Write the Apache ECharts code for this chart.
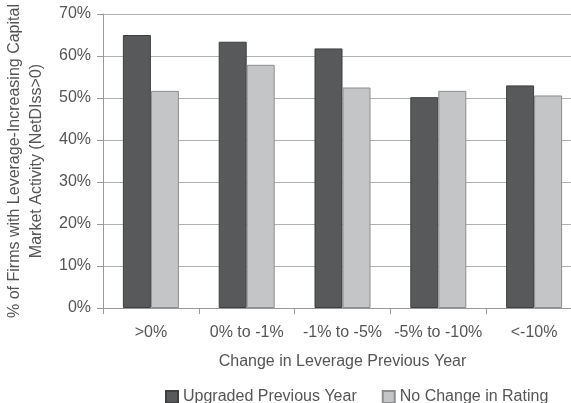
<!DOCTYPE html>
<html>
<head>
<meta charset="utf-8">
<script src="https://cdn.jsdelivr.net/npm/echarts@6/dist/echarts.min.js"></script>
<style>
  html, body { margin: 0; padding: 0; background: #fff; }
  #chart { width: 571px; height: 403px; }
</style>
</head>
<body>
<div id="chart"></div>
<script>
// Leverage-change buckets and share of firms with leverage-increasing activity
const categories = ['>0%', '0% to -1%', '-1% to -5%', '-5% to -10%', '<-10%'];
const upgraded = [65.0, 63.4, 61.8, 50.2, 53.0];
const noChange = [51.7, 57.9, 52.5, 51.7, 50.6];
const yTicks = [0, 10, 20, 30, 40, 50, 60, 70];

const font = 'Liberation Sans, Arial, Helvetica, sans-serif';
const textColor = '#555';
const fs = 16;

const chart = echarts.init(document.getElementById('chart'), null, { renderer: 'canvas' });
chart.setOption({
  animation: false,
  textStyle: { fontFamily: font },
  grid: { left: 103, right: -11, top: 14, bottom: 95, containLabel: false, outerBoundsMode: 'none' },
  legend: {
    left: 160, top: 384,
    itemWidth: 12, itemHeight: 12, itemGap: 25,
    icon: 'rect',
    textStyle: { fontFamily: font, fontSize: fs, color: textColor },
    data: ['Upgraded Previous Year', 'No Change in Rating']
  },
  xAxis: {
    type: 'category',
    data: categories,
    name: 'Change in Leverage Previous Year',
    nameLocation: 'middle',
    nameGap: 46,
    nameTextStyle: { fontFamily: font, fontSize: fs, color: textColor },
    axisLine: { lineStyle: { color: '#999', width: 1 } },
    axisTick: { show: true, length: 6, lineStyle: { color: '#999' } },
    axisLabel: { fontFamily: font, fontSize: fs, color: textColor, margin: 17, interval: 0 }
  },
  yAxis: {
    type: 'value',
    min: yTicks[0], max: yTicks[yTicks.length - 1], interval: 10,
    name: '% of Firms with Leverage-Increasing Capital\nMarket Activity (NetDIss>0)',
    nameLocation: 'middle',
    nameRotate: 90,
    nameGap: 55,
    nameTextStyle: { fontFamily: font, fontSize: fs, color: textColor, lineHeight: 22 },
    axisLine: { show: true, lineStyle: { color: '#999', width: 1 } },
    axisTick: { show: true, length: 6, lineStyle: { color: '#999' } },
    axisLabel: { fontFamily: font, fontSize: fs, color: textColor, margin: 12, formatter: v => v + '%' },
    splitLine: { lineStyle: { color: '#b0b0b0', width: 1.2 } }
  },
  series: [
    {
      name: 'Upgraded Previous Year', type: 'bar', data: upgraded,
      barWidth: 28, barGap: '0%',
      itemStyle: { color: '#58595b', borderColor: '#3e3f41', borderWidth: 1 }
    },
    {
      name: 'No Change in Rating', type: 'bar', data: noChange,
      barWidth: 28, barGap: '0%',
      itemStyle: { color: '#c4c5c7', borderColor: '#8c8d8f', borderWidth: 1 }
    }
  ]
});
</script>
</body>
</html>
